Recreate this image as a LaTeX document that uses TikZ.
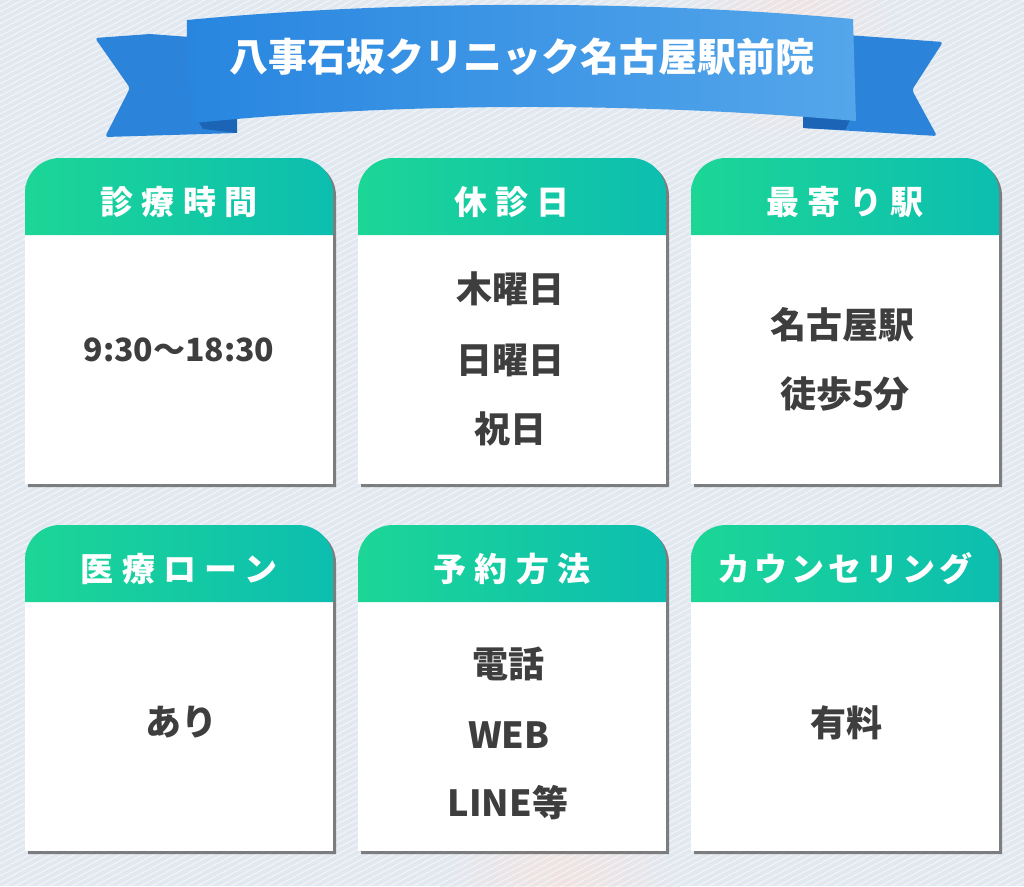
\documentclass[tikz,border=0pt]{standalone}
\usepackage{fontspec}
\usepackage{tikz}
\usetikzlibrary{positioning}

\newfontfamily\jpfont{Noto Sans CJK JP}
\definecolor{bgcol}{RGB}{226,232,240}
\definecolor{hdleft}{RGB}{28,214,150}
\definecolor{hdright}{RGB}{12,190,176}
\definecolor{bodytext}{RGB}{62,62,62}
\definecolor{ribleft}{RGB}{40,134,224}
\definecolor{ribright}{RGB}{84,166,234}
\definecolor{ribtail}{RGB}{44,132,218}
\definecolor{ribfold}{RGB}{28,100,182}
\definecolor{glow}{RGB}{246,226,220}
\tikzset{
  ribtext/.style={text=white, font=\jpfont\bfseries\fontsize{39}{44}\selectfont},
  hdtext/.style={text=white, font=\jpfont\bfseries\fontsize{33}{36}\selectfont},
  bodytxt/.style={text=bodytext, font=\jpfont\bfseries\fontsize{36}{40}\selectfont},
}

\begin{document}
\begin{tikzpicture}[x=1pt,y=-1pt]
       % Draw background
       \useasboundingbox (0,0) rectangle (1024,886);
       \fill[bgcol] (0,0) rectangle (1024,886);
       \clip (0,0) rectangle (1024,886);
       \shade[inner color=glow, outer color=bgcol, opacity=0.8] (790,40) circle (110pt);
       \shade[inner color=glow, outer color=bgcol, opacity=0.7] (560,880) circle (120pt);
       \foreach \c in {0,6,...,1560}
          \draw[white, opacity=0.55, line width=1.1pt] (0,\c) -- (1024,\c-540);

       % Draw ribbon tails
       \fill[ribtail, rounded corners=3pt] (150,34) -- (95,38) -- (130,88) -- (105,137) -- (237,133) -- (230,40) -- cycle;
       \fill[ribtail, rounded corners=3pt] (820,33) -- (943,42) -- (912,90) -- (937,136) -- (803,128) -- cycle;
       \fill[ribfold] (193,112) -- (237,118) -- (237,133) -- (203,129) -- cycle;
       \fill[ribfold] (855,110) -- (803,116) -- (803,128) -- (845,130) -- cycle;
       % Draw ribbon band
       \shade[left color=ribleft, right color=ribright]
          (187,20) .. controls (400,0) and (640,0) .. (853,19)
          -- (856,121) .. controls (640,102) and (400,102) .. (194,123)
          .. controls (190,90) and (186,50) .. (187,20) -- cycle;
       \node[ribtext] (title) at (522,57) {八事石坂クリニック名古屋駅前院};

       % Draw cards
       \foreach \x/\y/\n/\ls/\title in {25/158/1/25/診療時間, 358/158/2/25/休診日, 691/158/3/25/最寄り駅,
                                         25/525/4/25/医療ローン, 358/525/5/25/予約方法, 691/525/6/12/カウンセリング} {
          \fill[black!65, opacity=0.75, rounded corners=35pt] (\x+3,\y+329) -- (\x+3,\y+3) -- (\x+311,\y+3) -- (\x+311,\y+329);
          \fill[white] (\x,\y+76) rectangle (\x+308,\y+326);
          \shade[left color=hdleft, right color=hdright, rounded corners=35pt] (\x,\y+77) -- (\x,\y) -- (\x+308,\y) -- (\x+308,\y+77);
          \node[hdtext] (h_\n) at (\x+154,\y+44) {\addfontfeature{LetterSpace=\ls}\title\hspace{-0.\ls em}};
       }

       % Card texts
       \node[bodytxt, font=\jpfont\bfseries\fontsize{32}{36}\selectfont] (b_1) at (179,350) {9:30〜18:30};
       \node[bodytxt] (b_2a) at (510,289) {木曜日};
       \node[bodytxt] (b_2b) at (510,360) {日曜日};
       \node[bodytxt] (b_2c) at (510,429) {祝日};
       \node[bodytxt] (b_3a) at (842,325) {名古屋駅};
       \node[bodytxt] (b_3b) at (845,394) {徒歩5分};
       \node[bodytxt] (b_4) at (181,722) {あり};
       \node[bodytxt] (b_5a) at (508,664) {電話};
       \node[bodytxt] (b_5b) at (509,735) {WEB};
       \node[bodytxt] (b_5c) at (508,803) {LINE等};
       \node[bodytxt] (b_6) at (846,723) {有料};
\end{tikzpicture}
\end{document}
